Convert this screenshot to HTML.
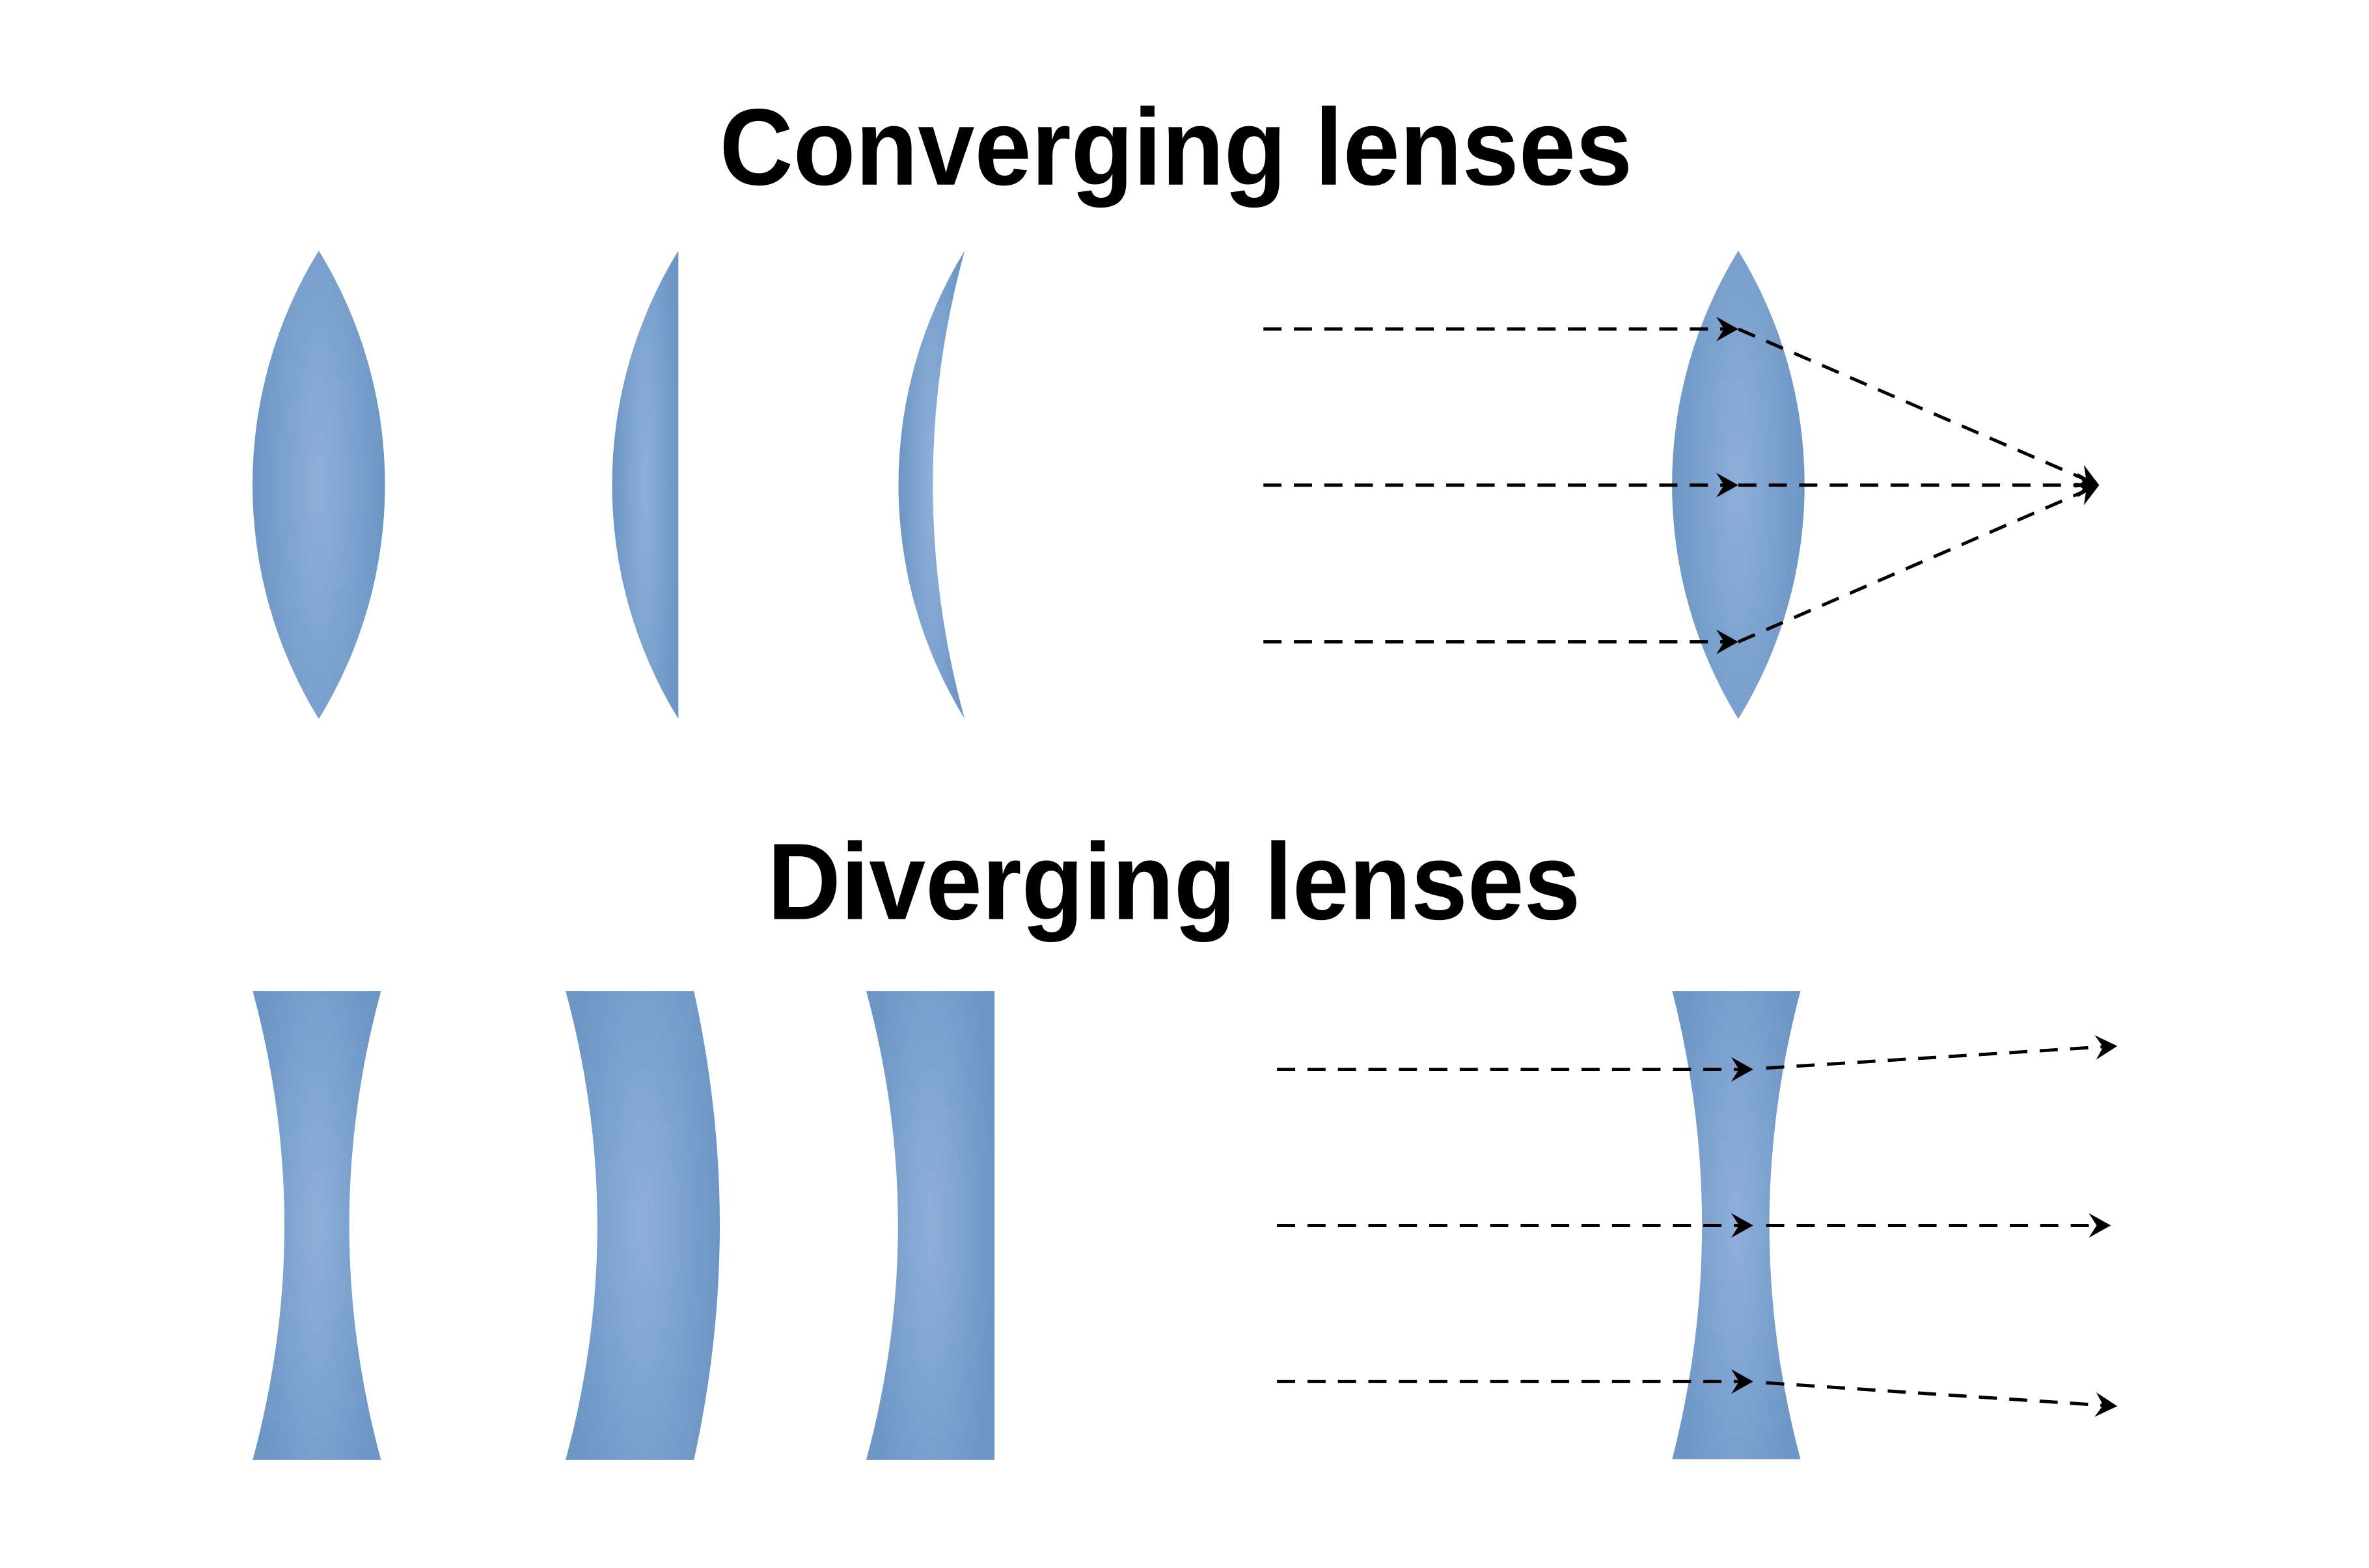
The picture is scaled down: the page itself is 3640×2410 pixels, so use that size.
<!DOCTYPE html>
<html><head><meta charset="utf-8"><style>html,body{margin:0;padding:0;background:#fff}svg{display:block}</style></head>
<body>
<svg width="3640" height="2410" viewBox="0 0 3640 2410" xmlns="http://www.w3.org/2000/svg">
<defs>
<radialGradient id="g" cx="0.5" cy="0.5" r="0.5" fx="0.5" fy="0.5" gradientTransform="translate(0.5 0.5) scale(1 1.6) translate(-0.5 -0.5)">
<stop offset="0" stop-color="#8fafda"/><stop offset="1" stop-color="#6c96c4"/>
</radialGradient>
<path id="ah" d="M0,0 L-34,-19 L-22,0 L-34,19 Z" fill="#000"/>
</defs>
<g transform="scale(0.9955)">
<text x="1815" y="285" font-family="Liberation Sans, sans-serif" font-weight="bold" font-size="168" text-anchor="middle" textLength="1409" lengthAdjust="spacingAndGlyphs">Converging lenses</text>
<text x="1812" y="1419" font-family="Liberation Sans, sans-serif" font-weight="bold" font-size="168" text-anchor="middle" textLength="1255" lengthAdjust="spacingAndGlyphs">Diverging lenses</text>

<path fill="url(#g)" d="M492,387 A690,690 0 0 1 492,1110 A690,690 0 0 1 492,387 Z"/>
<path fill="url(#g)" d="M1047,387 A690,690 0 0 0 1047,1110 Z"/>
<path fill="url(#g)" d="M1489,387 A690,690 0 0 0 1489,1110 A1354,1354 0 0 1 1489,387 Z"/>
<path fill="url(#g)" d="M2683,387 A690,690 0 0 1 2683,1110 A690,690 0 0 1 2683,387 Z"/>

<path fill="url(#g)" d="M390,1530 L588,1530 Q490,1892 588,2254 L390,2254 Q488,1892 390,1530 Z"/>
<path fill="url(#g)" d="M873,1530 L1071,1530 Q1151,1892 1071,2254 L873,2254 Q971,1892 873,1530 Z"/>
<path fill="url(#g)" d="M1337,1530 L1535,1530 L1535,2254 L1337,2254 Q1435,1892 1337,1530 Z"/>
<path fill="url(#g)" d="M2581,1530 L2779,1530 Q2683,1892 2779,2253 L2581,2253 Q2673,1892 2581,1530 Z"/>

<g stroke="#000" stroke-width="5" stroke-dasharray="28 19" fill="none">
<line x1="1950" y1="508" x2="2670" y2="508"/>
<line x1="1950" y1="749" x2="2670" y2="749"/>
<line x1="1950" y1="991" x2="2670" y2="991"/>
<line x1="2683" y1="508" x2="3225" y2="743"/>
<line x1="2683" y1="749" x2="3225" y2="749"/>
<line x1="2683" y1="991" x2="3225" y2="755"/>
<line x1="1971" y1="1651" x2="2694" y2="1651"/>
<line x1="1971" y1="1892" x2="2694" y2="1892"/>
<line x1="1971" y1="2133" x2="2694" y2="2133"/>
<line x1="2726" y1="1649" x2="3249" y2="1616"/>
<line x1="2726" y1="1892" x2="3244" y2="1892"/>
<line x1="2726" y1="2135" x2="3249" y2="2170"/>
</g>
<use href="#ah" transform="translate(2683,508)"/>
<use href="#ah" transform="translate(2683,749)"/>
<use href="#ah" transform="translate(2683,991)"/>
<use href="#ah" transform="translate(3240,749) rotate(23.5)"/>
<use href="#ah" transform="translate(3240,749)"/>
<use href="#ah" transform="translate(3240,749) rotate(-23.5)"/>
<use href="#ah" transform="translate(2706,1651)"/>
<use href="#ah" transform="translate(2706,1892)"/>
<use href="#ah" transform="translate(2706,2133)"/>
<use href="#ah" transform="translate(3268,1615) rotate(-3.7)"/>
<use href="#ah" transform="translate(3258,1892)"/>
<use href="#ah" transform="translate(3268,2171) rotate(3.9)"/>
</g>
</svg>
</body></html>
